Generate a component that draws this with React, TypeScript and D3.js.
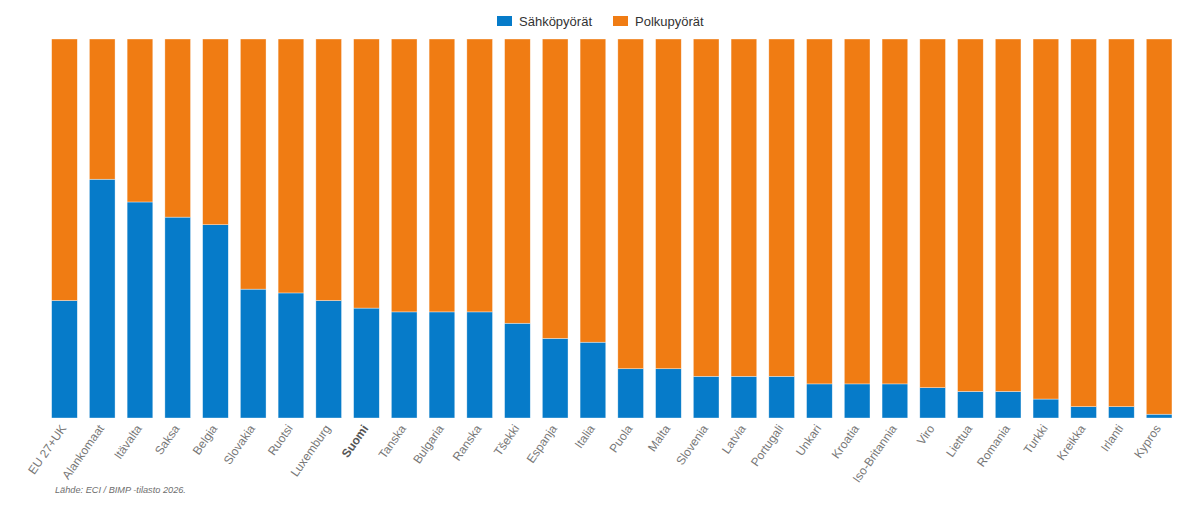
import { useEffect, useRef } from "react";
import * as d3 from "d3";

const COUNTRIES = [
  "EU 27+UK", "Alankomaat", "Itävalta", "Saksa", "Belgia", "Slovakia", "Ruotsi",
  "Luxemburg", "Suomi", "Tanska", "Bulgaria", "Ranska", "Tšekki", "Espanja", "Italia",
  "Puola", "Malta", "Slovenia", "Latvia", "Portugali", "Unkari", "Kroatia",
  "Iso-Britannia", "Viro", "Liettua", "Romania", "Turkki", "Kreikka", "Irlanti", "Kypros",
];

// share of e-bikes (%) per country
const EBIKE_SHARE = [
  31, 63, 57, 53, 51, 34, 33, 31, 29, 28, 28, 28, 25, 21, 20,
  13, 13, 11, 11, 11, 9, 9, 9, 8, 7, 7, 5, 3, 3, 1,
];

// share of regular bikes (%)
const BIKE_SHARE = EBIKE_SHARE.map((v) => 100 - v);

const SERIES = [
  { key: "ebike", label: "Sähköpyörät", color: "#067BC9" },
  { key: "bike", label: "Polkupyörät", color: "#F07C13" },
];

const HIGHLIGHT = "Suomi";

export default function App() {
  const svgRef = useRef<SVGSVGElement>(null);

  useEffect(() => {
    if (!svgRef.current) return;
    const width = 1200;
    const height = 507;
    const margin = { top: 39, right: 22, bottom: 89, left: 45.6 };

    const svg = d3.select(svgRef.current);
    svg.selectAll("*").remove();
    svg.attr("width", width).attr("height", height);

    const rows = COUNTRIES.map((c, i) => ({ country: c, ebike: EBIKE_SHARE[i], bike: BIKE_SHARE[i] }));

    const x = d3
      .scaleBand<string>()
      .domain(COUNTRIES)
      .range([margin.left, width - margin.right])
      .paddingInner(0.32)
      .paddingOuter(0.16);

    const y = d3
      .scaleLinear()
      .domain([0, 100])
      .range([height - margin.bottom, margin.top]);

    const stack = d3.stack<any>().keys(SERIES.map((s) => s.key));
    const layers = stack(rows);

    // stacked bars
    svg
      .append("g")
      .selectAll("g")
      .data(layers)
      .join("g")
      .attr("fill", (_d, i) => SERIES[i].color)
      .selectAll("rect")
      .data((d) => d)
      .join("rect")
      .attr("x", (d: any) => x(d.data.country)!)
      .attr("width", x.bandwidth())
      .attr("y", (d) => y(d[1]))
      .attr("height", (d) => y(d[0]) - y(d[1]))
      .attr("stroke", "#ffffff")
      .attr("stroke-opacity", 0.6)
      .attr("stroke-width", 0.6);

    // x axis labels, rotated
    const axis = svg
      .append("g")
      .attr("transform", `translate(0,${height - margin.bottom})`)
      .call(d3.axisBottom(x).tickSize(0).tickPadding(0));
    axis.select(".domain").remove();
    axis
      .selectAll<SVGTextElement, string>("text")
      .attr("transform", "translate(-1,8) rotate(-55)")
      .attr("text-anchor", "end")
      .attr("dy", "0.35em")
      .attr("fill", (d) => (d === HIGHLIGHT ? "#555555" : "#777777"))
      .attr("font-weight", (d) => (d === HIGHLIGHT ? "bold" : "normal"))
      .attr("font-size", "12px")
      .attr("font-family", "'Liberation Sans', Arial, sans-serif");

    // legend
    const legend = svg.append("g").attr("font-family", "'Liberation Sans', Arial, sans-serif");
    const legendX = [497, 613];
    SERIES.forEach((s, i) => {
      const g = legend.append("g").attr("transform", `translate(${legendX[i]},15)`);
      g.append("rect").attr("width", 15).attr("height", 10).attr("y", 1).attr("fill", s.color);
      g.append("text")
        .attr("x", 22)
        .attr("y", 11)
        .attr("font-size", "13px")
        .attr("fill", "#333333")
        .text(s.label);
    });

    // source note
    svg
      .append("text")
      .attr("x", 55)
      .attr("y", 493)
      .attr("font-size", "9.2px")
      .attr("font-style", "italic")
      .attr("fill", "#6e6e6e")
      .attr("font-family", "'Liberation Sans', Arial, sans-serif")
      .text("Lähde: ECI / BIMP -tilasto 2026.");
  }, []);

  return (
    <div style={{ position: "absolute", left: 0, top: 0 }}>
      <svg ref={svgRef} style={{ display: "block" }} />
    </div>
  );
}
